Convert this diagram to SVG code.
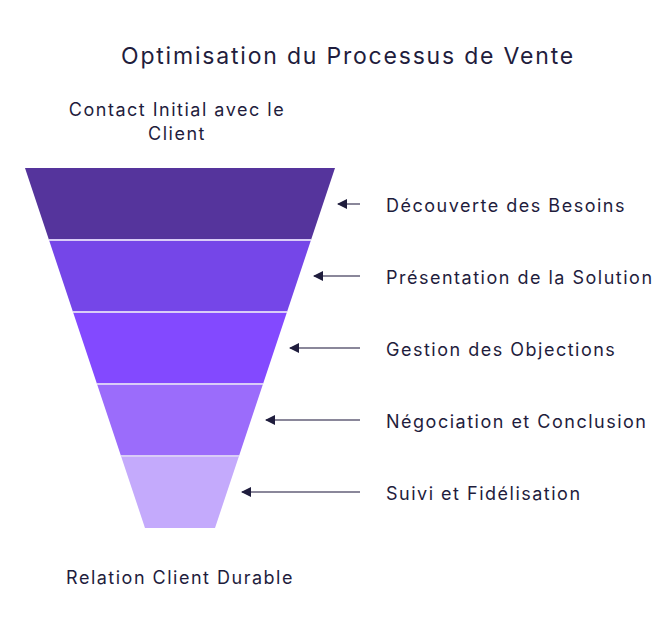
<svg xmlns="http://www.w3.org/2000/svg" width="661" height="636" viewBox="0 0 661 636">
<style>
text{font-family:Inter,"Open Sans","Liberation Sans",sans-serif;fill:#1f1d3d;font-size:18px;letter-spacing:1.5px}
text.t{font-size:23px;letter-spacing:1.8px}
.c{stroke:#8a879a;stroke-width:2;marker-start:url(#ah)}
.s{stroke:#d9ccf7;stroke-width:2}
</style>
<defs><marker id="ah" viewBox="0 0 10 10" refX="1" refY="5" markerWidth="5" markerHeight="5" orient="auto" markerUnits="strokeWidth"><path d="M10,0 L0,5 L10,10 z" fill="#1f1d3d"/></marker></defs>
<rect width="661" height="636" fill="#fff"/>
<text class="t" x="348" y="64" text-anchor="middle">Optimisation du Processus de Vente</text>
<text x="177" y="116" text-anchor="middle">Contact Initial avec le</text>
<text x="177" y="140" text-anchor="middle">Client</text>
<text x="180" y="584" text-anchor="middle">Relation Client Durable</text>
<g id="n1"><polygon points="25,168 335,168 311,240 49,240" fill="#55349c"/><text x="386" y="212">Découverte des Besoins</text></g>
<g id="n2"><polygon points="49,240 311,240 287,312 73,312" fill="#7546e8"/><text x="386" y="284">Présentation de la Solution</text></g>
<g id="n3"><polygon points="73,312 287,312 263,384 97,384" fill="#8349ff"/><text x="386" y="356">Gestion des Objections</text></g>
<g id="n4"><polygon points="97,384 263,384 239,456 121,456" fill="#9b6cfb"/><text x="386" y="428">Négociation et Conclusion</text></g>
<g id="n5"><polygon points="121,456 239,456 215,528 145,528" fill="#c4aafc"/><text x="386" y="500">Suivi et Fidélisation</text></g>
<g id="sep"><line class="s" x1="49" y1="240" x2="311" y2="240"/><line class="s" x1="73" y1="312" x2="287" y2="312"/><line class="s" x1="97" y1="384" x2="263" y2="384"/><line class="s" x1="121" y1="456" x2="239" y2="456"/></g>
<g id="connectors">
<line class="c" x1="338" y1="204" x2="360" y2="204"/>
<line class="c" x1="314" y1="276" x2="360" y2="276"/>
<line class="c" x1="290" y1="348" x2="360" y2="348"/>
<line class="c" x1="266" y1="420" x2="360" y2="420"/>
<line class="c" x1="242" y1="492" x2="360" y2="492"/>
</g>
</svg>
